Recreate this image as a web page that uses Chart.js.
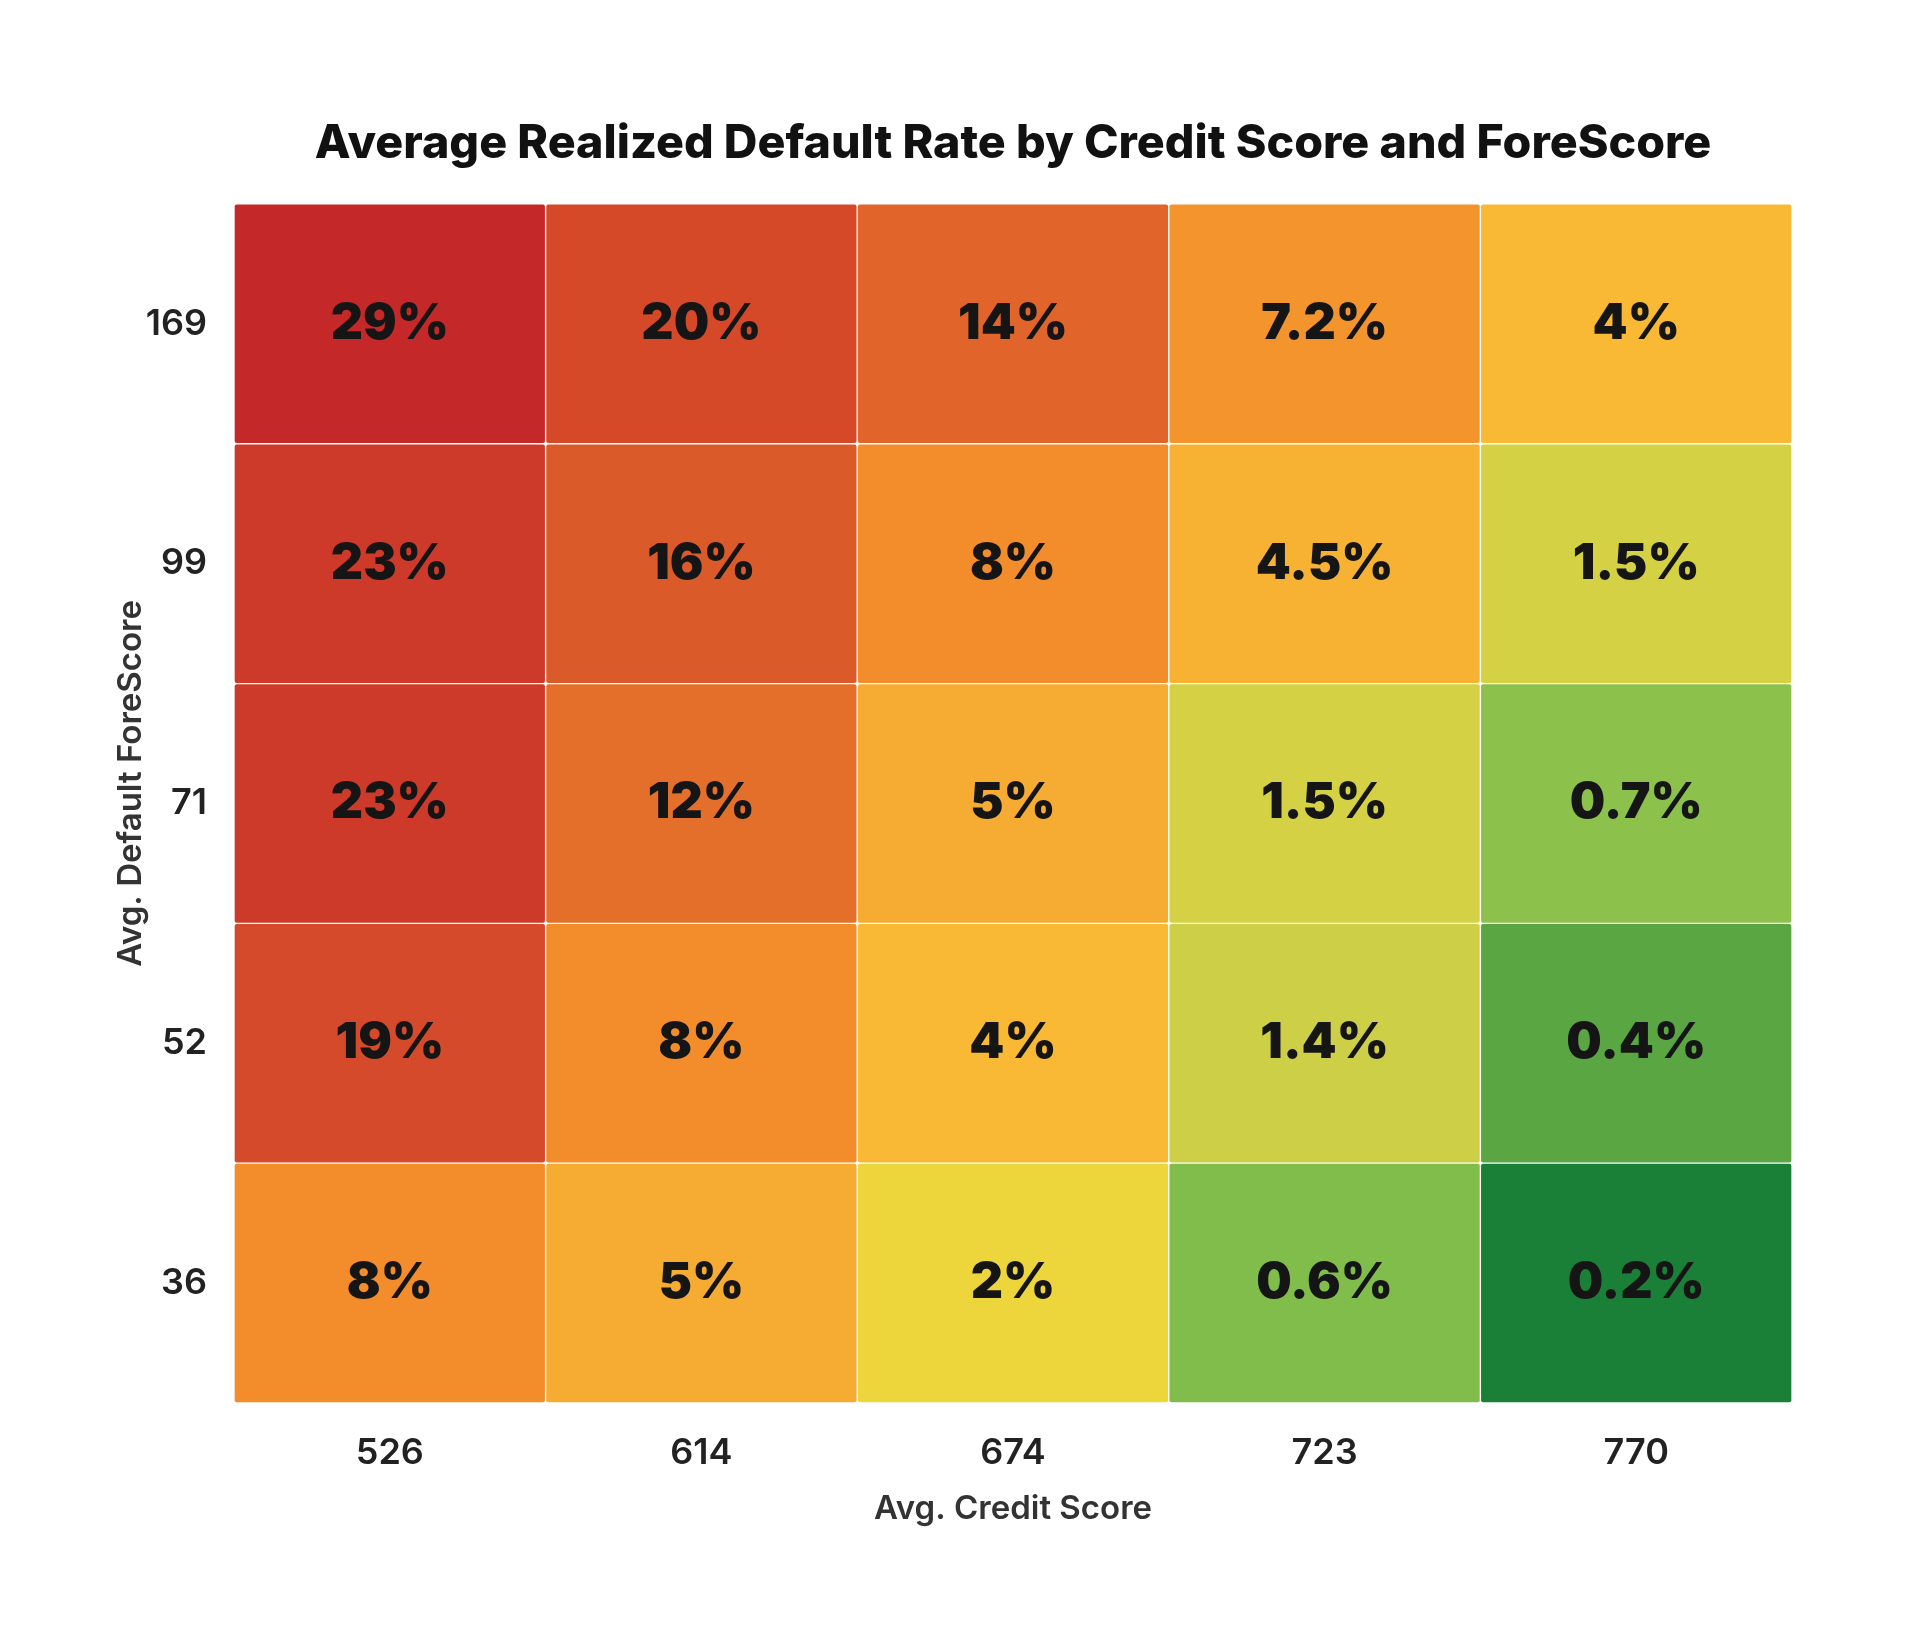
<!DOCTYPE html>
<html lang="en">
<head>
    <meta charset="UTF-8">
    <title>Average Realized Default Rate</title>
    <script src="https://cdn.jsdelivr.net/npm/chart.js"></script>
    <style>
        body {
            margin: 0;
            padding: 0;
            background: #fff;
        }
        .chart-box {
            position: relative;
            width: 1920px;
            height: 1638px;
        }
    </style>
</head>
<body>

<div class="chart-box">
    <canvas id="heatChart"></canvas>
</div>

<script>
    // credit score buckets (x) and ForeScore buckets (y, bottom to top)
    const creditScores = ['526', '614', '674', '723', '770'];
    const foreScores = ['36', '52', '71', '99', '169'];

    // realized default rate (%) per ForeScore row, left to right
    const row36 = [8, 5, 2, 0.6, 0.2];
    const row52 = [19, 8, 4, 1.4, 0.4];
    const row71 = [23, 12, 5, 1.5, 0.7];
    const row99 = [23, 16, 8, 4.5, 1.5];
    const row169 = [29, 20, 14, 7.2, 4];
    const rows = [row36, row52, row71, row99, row169];

    // colour scale: rate -> fill
    const colorStops = [
        [0.2, '#1a7f37'], [0.4, '#5aa642'], [0.6, '#81bd4b'], [0.7, '#8cc24c'],
        [1.4, '#cdd046'], [1.5, '#d5d144'], [2, '#ecd63c'], [4, '#f9b934'],
        [4.5, '#f7b234'], [5, '#f6ab32'], [7.2, '#f3952c'], [8, '#f38d2b'],
        [12, '#e46f2a'], [14, '#e1652a'], [16, '#da5a29'], [19, '#d44a2a'],
        [20, '#d54828'], [23, '#cd3a2a'], [29, '#c52829']
    ];

    function hexToRgb(h) {
        return [1, 3, 5].map(i => parseInt(h.substr(i, 2), 16));
    }

    function rateColor(v) {
        if (v <= colorStops[0][0]) return colorStops[0][1];
        for (let i = 1; i < colorStops.length; i++) {
            const [v1, c1] = colorStops[i];
            if (v <= v1) {
                const [v0, c0] = colorStops[i - 1];
                const t = (Math.log(v) - Math.log(v0)) / (Math.log(v1) - Math.log(v0));
                const a = hexToRgb(c0), b = hexToRgb(c1);
                const c = a.map((x, k) => Math.round(x + (b[k] - x) * t));
                return `rgb(${c[0]}, ${c[1]}, ${c[2]})`;
            }
        }
        return colorStops[colorStops.length - 1][1];
    }

    // draws the % value in the middle of every cell
    const cellLabels = {
        id: 'cellLabels',
        afterDatasetsDraw(chart) {
            const ctx = chart.ctx;
            ctx.save();
            ctx.font = '900 50px Inter';
            ctx.fillStyle = '#151515';
            ctx.textAlign = 'center';
            ctx.textBaseline = 'middle';
            chart.data.datasets.forEach((ds, di) => {
                chart.getDatasetMeta(di).data.forEach((bar, i) => {
                    const cy = (bar.y + bar.base) / 2;
                    ctx.fillText(ds.rates[i] + '%', bar.x, cy);
                });
            });
            ctx.restore();
        }
    };

    // y axis title, sits a little above the middle of the plot like the original
    const yTitle = {
        id: 'yTitle',
        afterDraw(chart) {
            const ctx = chart.ctx;
            const area = chart.chartArea;
            ctx.save();
            ctx.translate(131, (area.top + area.bottom) / 2 - 20);
            ctx.rotate(-Math.PI / 2);
            ctx.font = '600 33px Inter';
            ctx.fillStyle = '#333';
            ctx.textAlign = 'center';
            ctx.textBaseline = 'middle';
            ctx.fillText('Avg. Default ForeScore', 0, 0);
            ctx.restore();
        }
    };

    const ctx = document.getElementById('heatChart').getContext('2d');

    new Chart(ctx, {
        type: 'bar',
        data: {
            labels: creditScores,
            datasets: rows.map((r, k) => ({
                label: foreScores[k],
                rates: r,
                data: r.map(() => 1),
                backgroundColor: r.map(rateColor),
                borderColor: '#ffffff',
                borderWidth: 1,
                borderSkipped: false,
                borderRadius: { topLeft: 3, topRight: 3, bottomLeft: 3, bottomRight: 3 },
                barPercentage: 1,
                categoryPercentage: 1
            }))
        },
        options: {
            responsive: true,
            maintainAspectRatio: false,
            animation: false,
            layout: {
                padding: { top: 116, left: 112, right: 128, bottom: 108 }
            },
            plugins: {
                legend: { display: false },
                tooltip: { enabled: false },
                title: {
                    display: true,
                    fullSize: false,
                    text: 'Average Realized Default Rate by Credit Score and ForeScore',
                    color: '#111',
                    font: { family: 'Inter', size: 46.6, weight: '800', lineHeight: 1.2 },
                    padding: { top: 0, bottom: 32 }
                }
            },
            scales: {
                x: {
                    stacked: true,
                    grid: { display: false, drawTicks: false },
                    border: { display: false },
                    ticks: {
                        color: '#222',
                        padding: 29,
                        font: { family: 'Inter', size: 36, weight: '600', lineHeight: 1.2 }
                    },
                    title: {
                        display: true,
                        text: 'Avg. Credit Score',
                        color: '#333',
                        font: { family: 'Inter', size: 33, weight: '600', lineHeight: 1.2 },
                        padding: { top: 0, bottom: 1 }
                    },
                    afterFit(scale) { scale.height = 127; }
                },
                y: {
                    stacked: true,
                    min: 0,
                    max: 5,
                    grid: { display: false, drawTicks: false },
                    border: { display: false },
                    afterBuildTicks(scale) {
                        scale.ticks = foreScores.map((f, k) => ({ value: k + 0.5 }));
                    },
                    ticks: {
                        color: '#222',
                        padding: 27,
                        font: { family: 'Inter', size: 36, weight: '600', lineHeight: 1.2 },
                        callback: (v) => foreScores[Math.floor(v)]
                    },
                    afterFit(scale) { scale.width = 122; }
                }
            }
        },
        plugins: [cellLabels, yTitle]
    });
</script>

</body>
</html>
